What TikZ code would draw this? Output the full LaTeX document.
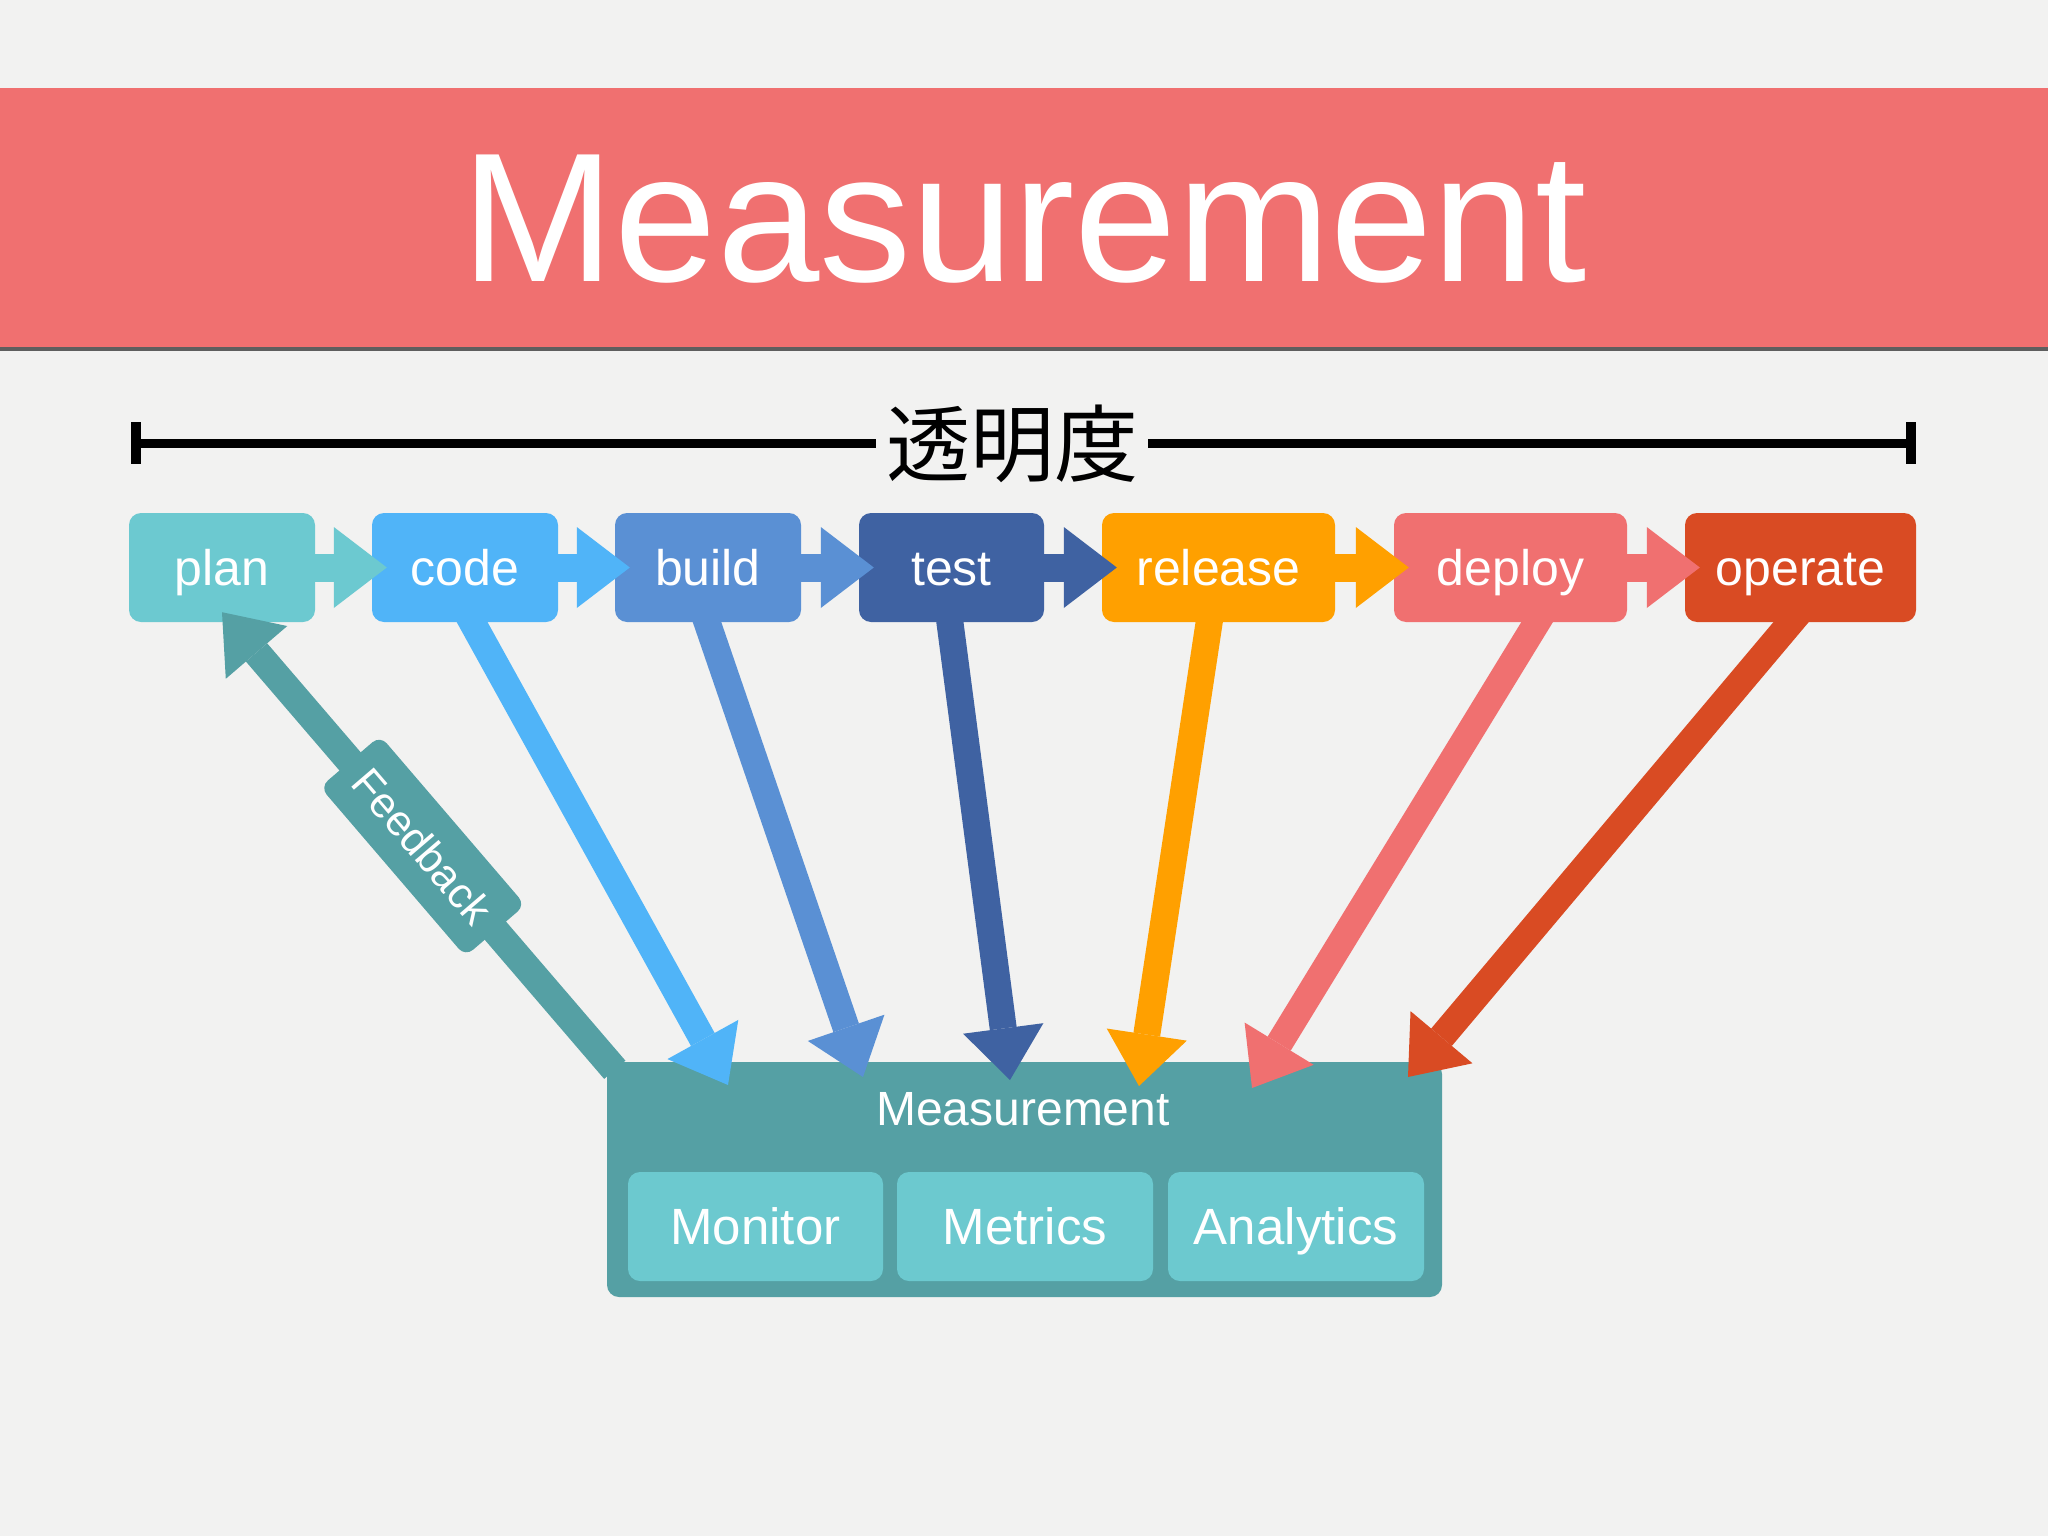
\documentclass[tikz,border=0pt]{standalone}
\usepackage{fontspec}
\setmainfont{Liberation Sans}
\newfontfamily\cjkfont{Noto Sans CJK JP}
\usetikzlibrary{arrows.meta}
\definecolor{bgc}{HTML}{F2F2F1}
\definecolor{titlec}{HTML}{F07070}
\definecolor{shadowc}{HTML}{5E5E5E}
\definecolor{planc}{HTML}{6CC9D0}
\definecolor{codec}{HTML}{50B4F8}
\definecolor{buildc}{HTML}{5A90D4}
\definecolor{testc}{HTML}{3F62A2}
\definecolor{releasec}{HTML}{FFA000}
\definecolor{deployc}{HTML}{F07070}
\definecolor{operatec}{HTML}{D94B23}
\definecolor{measc}{HTML}{55A0A4}
\definecolor{subc}{HTML}{6CC9CF}
\pgfdeclarelayer{back}
\pgfdeclarelayer{mid}
\pgfsetlayers{back,mid,main}
\newcommand\myfs[1]{\fontsize{#1}{#1}\selectfont}
\begin{document}
\begin{tikzpicture}[x=1pt,y=-1pt,
  pbox/.style={fill=#1, rounded corners=12pt, minimum height=109pt, inner sep=0pt,
    text=white, font=\myfs{50}, text height=36pt, text depth=0pt},
  subbox/.style={fill=subc, rounded corners=12pt, minimum height=109pt, minimum width=256pt,
    inner sep=0pt, text=white, font=\myfs{51}, text height=36pt, text depth=0pt},
  harrow/.style={draw=#1, line width=28pt, -{Triangle[length=53pt,width=81pt,line width=0pt]}},
  darrow/.style={draw=#1, line width=27pt, -{Triangle[length=52pt,width=81pt,line width=0pt]}},
  fblabel/.style={fill=measc, rounded corners=10pt, minimum width=223pt, minimum height=79pt,
    inner sep=0pt, text=white, font=\myfs{43}, text height=31pt, text depth=0pt, rotate=-49.4},
  barline/.style={draw=black, line width=9pt},
  bartick/.style={draw=black, line width=10pt}
]
\useasboundingbox (0,0) rectangle (2048,1536);

% ---------- back layer ----------
\begin{pgfonlayer}{back}
\fill[bgc] (0,0) rectangle (2048,1536);
\fill[titlec] (0,88) rectangle (2048,347);
\fill[shadowc] (0,347) rectangle (2048,351);
\node[fill=measc, rounded corners=12pt, minimum width=835pt, minimum height=235pt, inner sep=0pt] (meas) at (1024.5,1179.5) {};
\node[anchor=base, text=white, font=\myfs{48}, inner sep=0pt] (mlabel) at (1023,1125) {Measurement};
\node[subbox, minimum width=255pt] (monitor) at (755.5,1226.5) {Monitor};
\node[subbox] (metrics) at (1025,1226.5) {Metrics};
\node[subbox] (analytics) at (1296,1226.5) {Analytics};
\end{pgfonlayer}

% ---------- title ----------
\node[anchor=base, text=white, font=\myfs{184}, inner sep=0pt] (title) at (1024,281) {Measurement};

% ---------- transparency bar ----------
\coordinate (bl) at (135.5,443);
\coordinate (br) at (1911,443);
\node[anchor=base, font=\cjkfont\myfs{84}, inner xsep=10pt, inner ysep=0pt] (tmd) at (1012,475) {透明度};
\draw[barline] (bl) -- (tmd.west |- bl);
\draw[barline] (tmd.east |- br) -- (br);
\draw[bartick] ([yshift=21pt]bl) -- ([yshift=-21pt]bl);
\draw[bartick] ([yshift=21pt]br) -- ([yshift=-21pt]br);

% ---------- process boxes ----------
\node[pbox=planc, minimum width=186pt] (plan) at (222,567.5) {plan};
\node[pbox=codec, minimum width=186pt] (code) at (465,567.5) {code};
\node[pbox=buildc, minimum width=186pt] (build) at (708,567.5) {build};
\node[pbox=testc, minimum width=185pt] (test) at (951.5,567.5) {test};
\node[pbox=releasec, minimum width=233pt] (release) at (1218.5,567.5) {release};
\node[pbox=deployc, minimum width=233pt] (deploy) at (1510.5,567.5) {deploy};
\node[pbox=operatec, minimum width=231pt] (operate) at (1800.5,567.5) {operate};

% ---------- horizontal connectors ----------
\draw[harrow=planc] (plan.east) -- ([xshift=15pt]code.west);
\draw[harrow=codec] (code.east) -- ([xshift=15pt]build.west);
\draw[harrow=buildc] (build.east) -- ([xshift=15pt]test.west);
\draw[harrow=testc] (test.east) -- ([xshift=15pt]release.west);
\draw[harrow=releasec] (release.east) -- ([xshift=15pt]deploy.west);
\draw[harrow=deployc] (deploy.east) -- ([xshift=15pt]operate.west);

% ---------- arrows into Measurement ----------
\coordinate (tcode) at (728,1085);
\coordinate (tbuild) at (863,1077);
\coordinate (ttest) at (1010,1080);
\coordinate (trelease) at (1139,1086);
\coordinate (tdeploy) at (1252,1088);
\coordinate (toperate) at (1408,1077);
\begin{pgfonlayer}{mid}
\draw[darrow=codec] ([xshift=-5pt,yshift=22pt]code.south) -- (tcode);
\draw[darrow=buildc] ([xshift=-8.5pt,yshift=22pt]build.south) -- (tbuild);
\draw[darrow=testc] ([xshift=-4.5pt,yshift=22pt]test.south) -- (ttest);
\draw[darrow=releasec] ([xshift=-6pt,yshift=22pt]release.south) -- (trelease);
\draw[darrow=deployc] ([xshift=40pt,yshift=22pt]deploy.south) -- (tdeploy);
\draw[darrow=operatec] ([xshift=9pt,yshift=22pt]operate.south) -- (toperate);
\end{pgfonlayer}

% ---------- feedback ----------
\draw[harrow=measc] ([shift={(8,8)}]meas.north west) -- node[fblabel, pos=0.489] (fb) {Feedback} ([yshift=10pt]plan.south);
\end{tikzpicture}
\end{document}
